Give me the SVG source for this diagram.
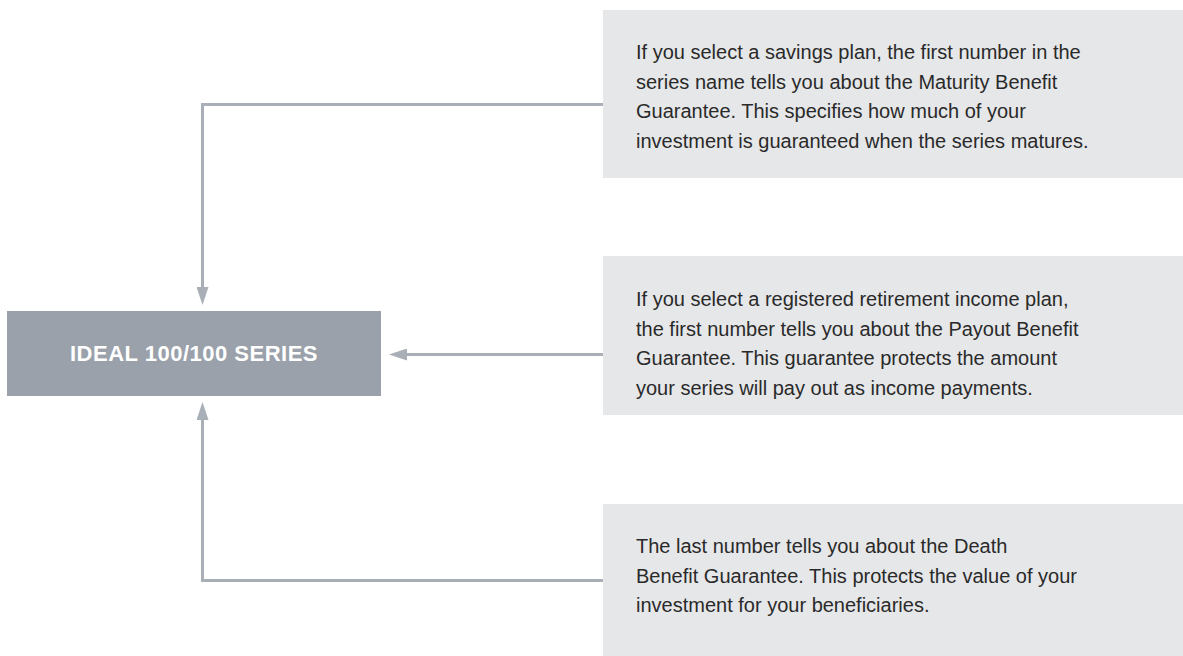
<svg xmlns="http://www.w3.org/2000/svg" width="1183" height="656" viewBox="0 0 1183 656">
  <style>
    .note { fill: #e6e7e9; }
    .note-text { font-family: "Liberation Sans", Arial, sans-serif; font-size: 20px; fill: #2a2a2a; }
    .series { fill: #9aa1aa; }
    .series-text { font-family: "Liberation Sans", Arial, sans-serif; font-size: 22px; font-weight: bold; fill: #ffffff; letter-spacing: 0.5px; }
    .link { fill: none; stroke: #a9afb6; stroke-width: 3; }
  </style>
  <defs>
    <marker id="head" markerUnits="userSpaceOnUse" viewBox="0 0 18 12" markerWidth="18" markerHeight="12" refX="0" refY="6" orient="auto">
      <path d="M0,0 L18,6 L0,12 z" fill="#a9afb6"/>
    </marker>
  </defs>

  <rect width="1183" height="656" fill="#ffffff"/>

  <!-- central series box -->
  <g id="series">
    <rect class="series" x="7" y="311" width="374" height="85"/>
    <text class="series-text" x="194" y="361" text-anchor="middle">IDEAL 100/100 SERIES</text>
  </g>

  <!-- maturity benefit note -->
  <g id="note-maturity">
    <rect class="note" x="603" y="10" width="580" height="168"/>
    <text class="note-text" x="636" y="59">If you select a savings plan, the first number in the</text>
    <text class="note-text" x="636" y="88.6">series name tells you about the Maturity Benefit</text>
    <text class="note-text" x="636" y="118.2">Guarantee. This specifies how much of your</text>
    <text class="note-text" x="636" y="147.8">investment is guaranteed when the series matures.</text>
  </g>

  <!-- payout benefit note -->
  <g id="note-payout">
    <rect class="note" x="603" y="256" width="580" height="159"/>
    <text class="note-text" x="636" y="306">If you select a registered retirement income plan,</text>
    <text class="note-text" x="636" y="335.6">the first number tells you about the Payout Benefit</text>
    <text class="note-text" x="636" y="365.2">Guarantee. This guarantee protects the amount</text>
    <text class="note-text" x="636" y="394.8">your series will pay out as income payments.</text>
  </g>

  <!-- death benefit note -->
  <g id="note-death">
    <rect class="note" x="603" y="504" width="580" height="152"/>
    <text class="note-text" x="636" y="553">The last number tells you about the Death</text>
    <text class="note-text" x="636" y="582.6">Benefit Guarantee. This protects the value of your</text>
    <text class="note-text" x="636" y="612.2">investment for your beneficiaries.</text>
  </g>

  <!-- connectors -->
  <g id="connectors">
    <path class="link" d="M603,104.5 H202.5 V287" marker-end="url(#head)"/>
    <path class="link" d="M603,354.5 H407" marker-end="url(#head)"/>
    <path class="link" d="M603,580.5 H202.5 V420" marker-end="url(#head)"/>
  </g>
</svg>
